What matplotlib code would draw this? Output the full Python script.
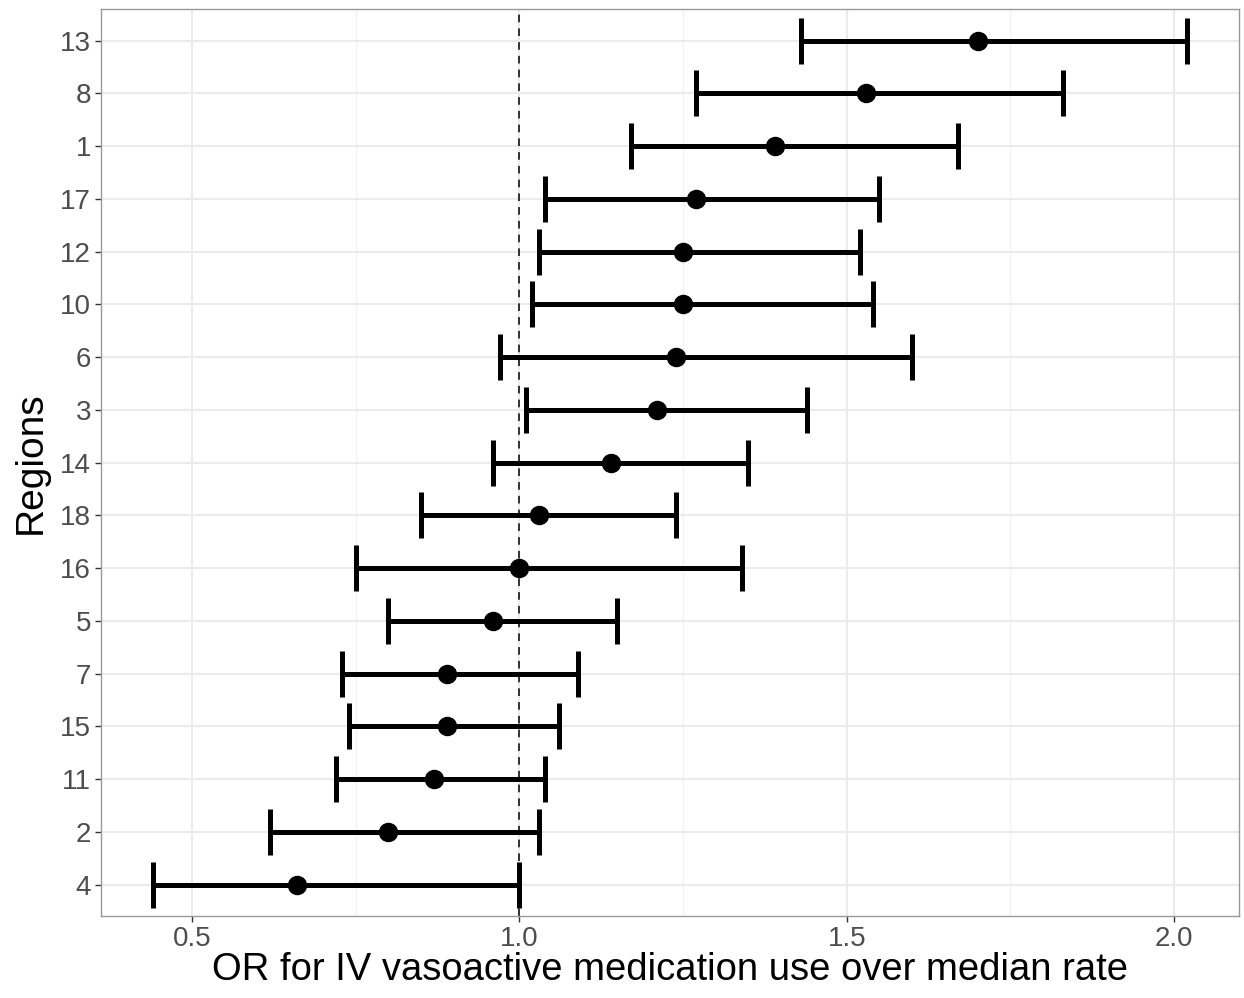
import numpy as np
import matplotlib
matplotlib.use("Agg")
import matplotlib.pyplot as plt
from matplotlib.ticker import MultipleLocator

plt.rcParams['font.family'] = ['Liberation Sans', 'DejaVu Sans']

# Regiones, de abajo hacia arriba
regiones = ['4', '2', '11', '15', '7', '5', '16', '18', '14', '3', '6', '10', '12', '17', '1', '8', '13']
odds_ratio = [0.66, 0.80, 0.87, 0.89, 0.89, 0.96, 1.00, 1.03, 1.14, 1.21, 1.24, 1.25, 1.25, 1.27, 1.39, 1.53, 1.70]
ic_inferior = [0.44, 0.62, 0.72, 0.74, 0.73, 0.80, 0.75, 0.85, 0.96, 1.01, 0.97, 1.02, 1.03, 1.04, 1.17, 1.27, 1.43]
ic_superior = [1.00, 1.03, 1.04, 1.06, 1.09, 1.15, 1.34, 1.24, 1.35, 1.44, 1.60, 1.54, 1.52, 1.55, 1.67, 1.83, 2.02]

y = np.arange(1, len(regiones) + 1)
orr = np.array(odds_ratio)
err = [orr - np.array(ic_inferior), np.array(ic_superior) - orr]

fig = plt.figure(figsize=(12.44, 9.98), dpi=100)
ax = fig.add_axes([0.081, 0.082, 0.915, 0.909])

# Linea de referencia en OR = 1
ax.axvline(1.0, color='black', linestyle=(0, (5, 4)), linewidth=1.1, zorder=2)

ax.errorbar(orr, y, xerr=err, fmt='o', color='black', markersize=13,
            elinewidth=3.6, capsize=16.5, capthick=3.6, zorder=3)

ax.set_xlim(0.361, 2.099)
ax.set_ylim(0.4, len(regiones) + 0.6)
ax.set_yticks(y)
ax.set_yticklabels(regiones)
ax.xaxis.set_major_locator(MultipleLocator(0.5))
ax.xaxis.set_minor_locator(MultipleLocator(0.25))
ax.set_xticks([0.5, 1.0, 1.5, 2.0])
ax.set_xticklabels(['0.5', '1.0', '1.5', '2.0'])

# Estilo tipo theme_bw
ax.grid(which='major', color='#EBEBEB', linewidth=1.5, zorder=0)
ax.grid(which='minor', axis='x', color='#F2F2F2', linewidth=0.9, zorder=0)
ax.set_axisbelow(True)
for s in ax.spines.values():
    s.set_color('#999999')
    s.set_linewidth(1.0)
ax.tick_params(which='major', colors='#333333', labelcolor='#4D4D4D', labelsize=20,
               length=4, width=1, pad=3)
ax.tick_params(which='minor', length=0)

ax.set_xlabel('OR for IV vasoactive medication use over median rate', fontsize=27.5, labelpad=0)
ax.set_ylabel('Regions', fontsize=28, labelpad=8)

fig.savefig('out.png', dpi=100)
